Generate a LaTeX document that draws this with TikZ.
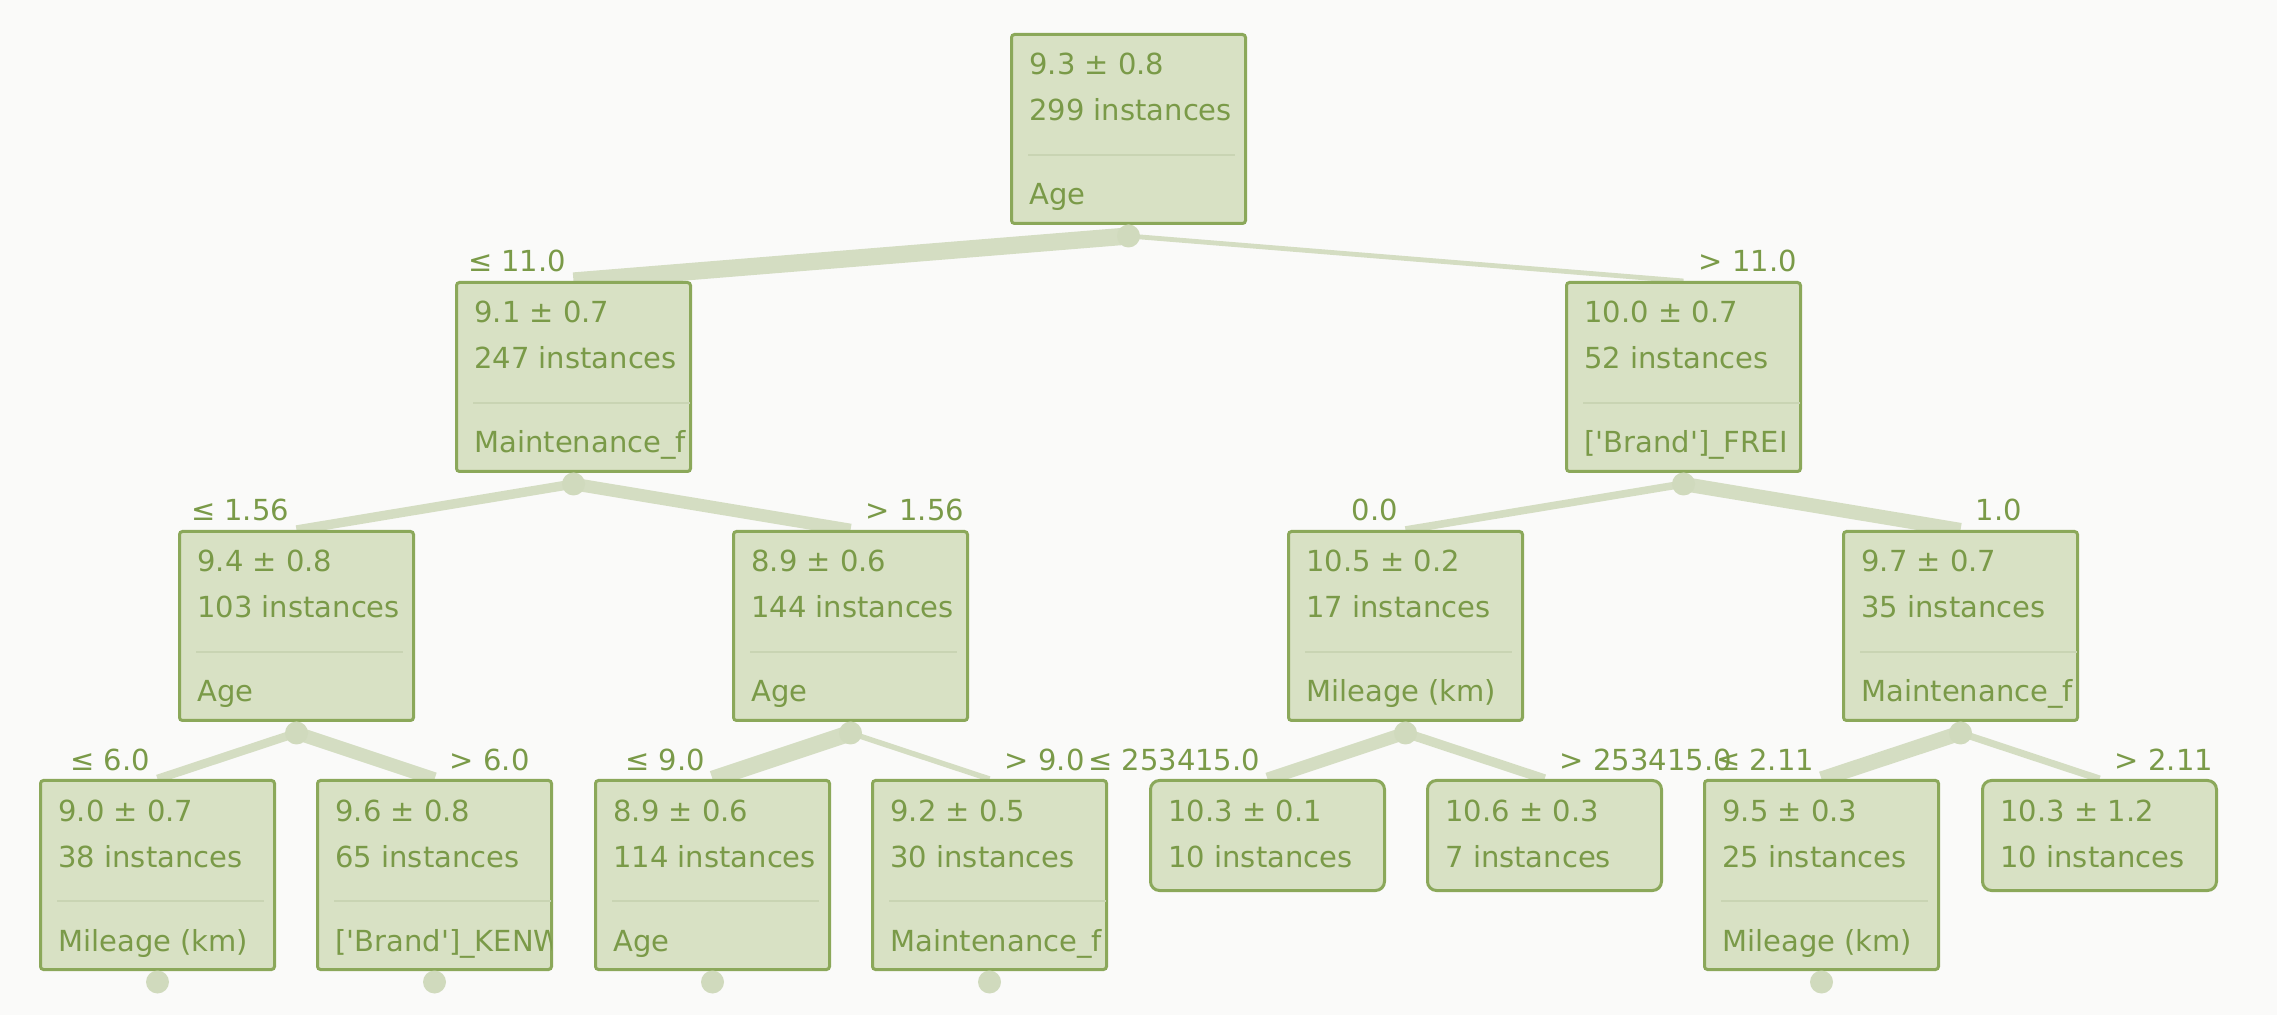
\documentclass[tikz,border=0pt]{standalone}
\usepackage{fontspec}
\setmainfont{DejaVu Sans}

\definecolor{bgcol}{HTML}{FAFAF9}
\definecolor{boxfill}{HTML}{D8E1C4}
\definecolor{boxline}{HTML}{8BA85A}
\definecolor{txtcol}{HTML}{7A9A48}
\definecolor{edgecol}{HTML}{D4DDC2}
\definecolor{dotcol}{HTML}{D0DABD}
\definecolor{sepcol}{HTML}{C9D4B3}

\pgfdeclarelayer{back}
\pgfdeclarelayer{edges}
\pgfsetlayers{back,edges,main}

\tikzset{
  tbox/.style={draw=boxline, fill=boxfill, line width=1.5pt, minimum width=117pt,
               inner sep=0pt, anchor=north west},
  splitbox/.style={tbox, rounded corners=1.5pt, minimum height=94.5pt},
  leafbox/.style={tbox, rounded corners=4.5pt, minimum height=55pt},
  txt/.style={text=txtcol, font=\fontsize{14.5pt}{17pt}\selectfont, inner sep=0pt, anchor=base west},
  condl/.style={txt, anchor=base east},
  condr/.style={txt, anchor=base west},
  knot/.style={circle, fill=dotcol, minimum size=11.5pt, inner sep=0pt},
  edge/.style={draw=edgecol, line cap=butt},
}

% split node: name, x, y, mean, count, feature, separator inset
\newcommand\splitnode[7]{%
  \node[splitbox] (#1) at (#2,#3) {};
  \begin{scope}
    \clip ([shift={(2,2)}]#1.north west) rectangle ([shift={(-2,-2)}]#1.south east);
    \node[txt] (#1-mean)  at ([shift={(19,42)}]#1.north west) {#4};
    \node[txt] (#1-count) at ([shift={(19,88)}]#1.north west) {#5};
    \node[txt] (#1-feat)  at ([shift={(19,172)}]#1.north west) {#6};
    \draw[sepcol, line width=0.6pt] ([shift={(18,122)}]#1.north west) -- ([shift={(-#7,122)}]#1.north east);
  \end{scope}
}
% leaf node: name, x, y, mean, count
\newcommand\leafnode[5]{%
  \node[leafbox] (#1) at (#2,#3) {};
  \node[txt] (#1-mean)  at ([shift={(19,42)}]#1.north west) {#4};
  \node[txt] (#1-count) at ([shift={(19,88)}]#1.north west) {#5};
}
\newcommand\knotbelow[1]{\node[knot] (#1-dot) at ([shift={(0,11)}]#1.south) {};}
\newcommand\qs{\textquotesingle}

\begin{document}
\begin{tikzpicture}[x=0.5pt, y=-0.5pt]
  \useasboundingbox (0,0) rectangle (2277,1015);
  \begin{pgfonlayer}{back}
    \fill[bgcol] (0,0) rectangle (2277,1015);
  \end{pgfonlayer}

  % level 0 and 1
  \splitnode{root}{1010}{33}{9.3 ± 0.8}{299 instances}{Age}{12}
  \splitnode{A}{455}{281}{9.1 ± 0.7}{247 instances}{Maintenance\_f}{2}
  \splitnode{B}{1565}{281}{10.0 ± 0.7}{52 instances}{[\qs Brand\qs]\_FREI}{2}

  % level 2
  \splitnode{AA}{178}{530}{9.4 ± 0.8}{103 instances}{Age}{12}
  \splitnode{AB}{732}{530}{8.9 ± 0.6}{144 instances}{Age}{12}
  \splitnode{BA}{1287}{530}{10.5 ± 0.2}{17 instances}{Mileage (km)}{12}
  \splitnode{BB}{1842}{530}{9.7 ± 0.7}{35 instances}{Maintenance\_f}{2}

  % level 3
  \splitnode{AAA}{39}{779}{9.0 ± 0.7}{38 instances}{Mileage (km)}{12}
  \splitnode{AAB}{316}{779}{9.6 ± 0.8}{65 instances}{[\qs Brand\qs]\_KENW}{2}
  \splitnode{ABA}{594}{779}{8.9 ± 0.6}{114 instances}{Age}{12}
  \splitnode{ABB}{871}{779}{9.2 ± 0.5}{30 instances}{Maintenance\_f}{2}
  \leafnode{BAA}{1149}{779}{10.3 ± 0.1}{10 instances}
  \leafnode{BAB}{1426}{779}{10.6 ± 0.3}{7 instances}
  \splitnode{BBA}{1703}{779}{9.5 ± 0.3}{25 instances}{Mileage (km)}{12}
  \leafnode{BBB}{1981}{779}{10.3 ± 1.2}{10 instances}

  % branching knots
  \foreach \n in {root,A,B,AA,AB,BA,BB,AAA,AAB,ABA,ABB,BBA} {\knotbelow{\n}}

  % branches, width by share of the parent's instances
  \begin{pgfonlayer}{edges}
    \draw[edge, line width=8.6pt] (root-dot.center) -- (A.north);
    \draw[edge, line width=2.4pt] (root-dot.center) -- (B.north);
    \draw[edge, line width=4.7pt] (A-dot.center) -- (AA.north);
    \draw[edge, line width=6.3pt] (A-dot.center) -- (AB.north);
    \draw[edge, line width=3.8pt] (B-dot.center) -- (BA.north);
    \draw[edge, line width=7.1pt] (B-dot.center) -- (BB.north);
    \draw[edge, line width=4.3pt] (AA-dot.center) -- (AAA.north);
    \draw[edge, line width=6.7pt] (AA-dot.center) -- (AAB.north);
    \draw[edge, line width=8.3pt] (AB-dot.center) -- (ABA.north);
    \draw[edge, line width=2.7pt] (AB-dot.center) -- (ABB.north);
    \draw[edge, line width=6.4pt] (BA-dot.center) -- (BAA.north);
    \draw[edge, line width=4.7pt] (BA-dot.center) -- (BAB.north);
    \draw[edge, line width=7.6pt] (BB-dot.center) -- (BBA.north);
    \draw[edge, line width=3.5pt] (BB-dot.center) -- (BBB.north);
  \end{pgfonlayer}

  % branch conditions
  \node[condl] (A-cond)   at ([shift={(-7,-9)}]A.north)   {≤ 11.0};
  \node[condr] (B-cond)   at ([shift={(15,-9)}]B.north)   {> 11.0};
  \node[condl] (AA-cond)  at ([shift={(-7,-9)}]AA.north)  {≤ 1.56};
  \node[condr] (AB-cond)  at ([shift={(15,-9)}]AB.north)  {> 1.56};
  \node[condl] (BA-cond)  at ([shift={(-7,-9)}]BA.north)  {0.0};
  \node[condr] (BB-cond)  at ([shift={(15,-9)}]BB.north)  {1.0};
  \node[condl] (AAA-cond) at ([shift={(-7,-9)}]AAA.north) {≤ 6.0};
  \node[condr] (AAB-cond) at ([shift={(15,-9)}]AAB.north) {> 6.0};
  \node[condl] (ABA-cond) at ([shift={(-7,-9)}]ABA.north) {≤ 9.0};
  \node[condr] (ABB-cond) at ([shift={(15,-9)}]ABB.north) {> 9.0};
  \node[condl] (BAA-cond) at ([shift={(-7,-9)}]BAA.north) {≤ 253415.0};
  \node[condr] (BAB-cond) at ([shift={(15,-9)}]BAB.north) {> 253415.0};
  \node[condl] (BBA-cond) at ([shift={(-7,-9)}]BBA.north) {≤ 2.11};
  \node[condr] (BBB-cond) at ([shift={(15,-9)}]BBB.north) {> 2.11};
\end{tikzpicture}
\end{document}
